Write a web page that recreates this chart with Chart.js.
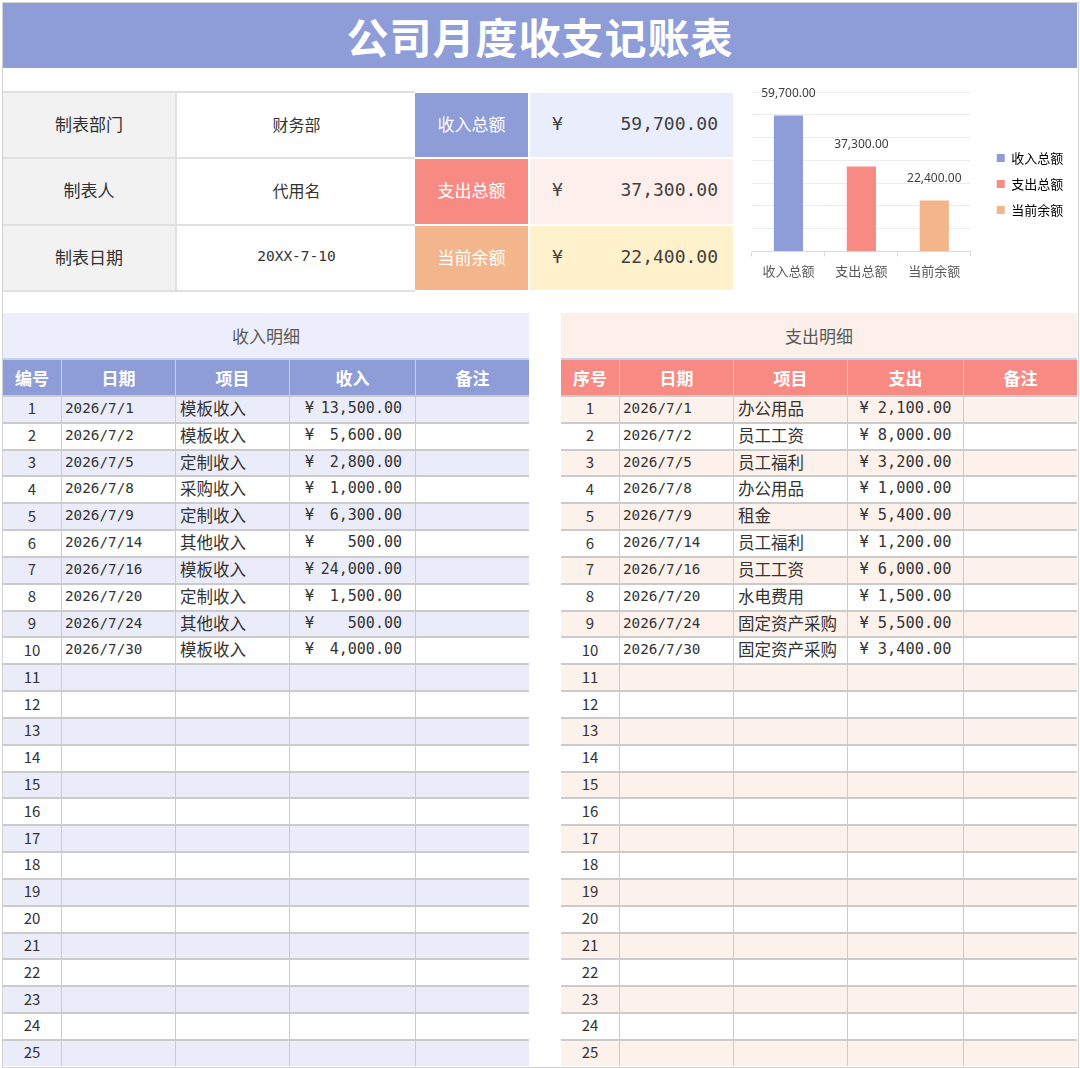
<!DOCTYPE html>
<html lang="zh-CN">
<head>
<meta charset="utf-8">
<title>公司月度收支记账表</title>
<script src="https://cdn.jsdelivr.net/npm/chart.js@4.4.1/dist/chart.umd.min.js"></script>
<style>
  html, body { margin: 0; padding: 0; background: #fff; }
  body { width: 1080px; height: 1068px; position: relative; overflow: hidden;
         font-family: "Noto Sans CJK SC", "Noto Sans", sans-serif; color: #333; }
  .abs { position: absolute; }
  #frame { left: 2px; top: 2px; width: 1075px; height: 1064px; border: 1px solid #d2d2d2; }
  #title { left: 3px; top: 3px; width: 1074px; height: 65px; background: #8e9cd8;
           color: #fff; font-size: 42px; font-weight: 700; letter-spacing: 1px;
           display: flex; align-items: center; justify-content: center; }
  .grid { display: grid; }
  .cell { display: flex; align-items: center; overflow: hidden; white-space: nowrap; box-sizing: border-box; }
  .c { justify-content: center; }
  .mono { font-family: "DejaVu Sans Mono", "Liberation Mono", monospace; }
  #infoLeft { left: 3px; top: 91px; background: #e0e0e0; padding: 2px 0 2px 0;
              grid-template-columns: 172px 239px; column-gap: 2px; row-gap: 2px;
              grid-template-rows: repeat(3, 64.33px); }
  #infoLeft .cell, #infoRight .cell { padding-bottom: 3px; }
  #infoLeft .lab { background: #f2f2f2; font-size: 17px; color: #333; }
  #infoLeft .val { background: #fff; font-size: 16px; color: #333; }
  #infoLeft .val.mono { font-size: 14.5px; }
  #infoRight { left: 415px; top: 91px; background: #fff; padding: 2px 0 2px 0;
               grid-template-columns: 113px 203px; column-gap: 2px; row-gap: 2px;
               grid-template-rows: repeat(3, 64.33px); }
  #infoRight .lab { color: #fff; font-size: 17px; }
  #infoRight .amt { justify-content: space-between; padding: 0 15px 3px 22px; font-size: 18px; color: #404040; }
  #chartBox { left: 742px; top: 78px; width: 334px; height: 212px; }
  .sec { height: 45px; font-size: 17px; color: #595959; display: flex; align-items: center; justify-content: center; }
  #secIn { left: 3px; top: 313px; width: 526px; background: #eceefb; }
  #secOut { left: 561px; top: 313px; width: 516px; background: #fdf0ea; }
  .head { top: 358px; padding-top: 2px; column-gap: 1px; grid-template-rows: 35px; background: #c7cfef; }
  .head .cell { color: #fff; font-size: 17px; font-weight: 700; justify-content: center; padding-bottom: 1px; }
  .body { top: 395px; padding-top: 2px; column-gap: 1px; row-gap: 2px; background: #cbcbcb;
          grid-template-rows: repeat(25, 24.84px); }
  .body .cell { font-size: 15px; color: #333; padding-bottom: 3px; }
  .body .num { justify-content: center; }
  .body .date { padding-left: 3px; font-size: 14.3px; }
  .body .item { padding-left: 4px; font-size: 16.5px; }
  .body .acc { justify-content: space-between; padding: 0 13px 3px 15px; font-size: 15px; }
  .body .amt2 { justify-content: center; font-size: 15.3px; }
  #headIn, #bodyIn { left: 3px; grid-template-columns: 58px 113px 113px 125px 113px; }
  #headOut, #bodyOut { left: 561px; grid-template-columns: 58px 113px 113px 115px 113px; }
  #headIn .cell { background: #8e9cd8; }
  #headOut .cell { background: #f78b84; }
</style>
</head>
<body>
<div id="frame" class="abs"></div>
<div id="title" class="abs">公司月度收支记账表</div>
<div id="infoLeft" class="abs grid"></div>
<div id="infoRight" class="abs grid"></div>
<div id="chartBox" class="abs"><canvas id="summaryChart"></canvas></div>
<div id="secIn" class="abs sec">收入明细</div>
<div id="secOut" class="abs sec">支出明细</div>
<div id="headIn" class="abs grid head"></div>
<div id="bodyIn" class="abs grid body"></div>
<div id="headOut" class="abs grid head"></div>
<div id="bodyOut" class="abs grid body"></div>

<script>
/* ================= DATA ================= */
const infoLabels = ["制表部门", "制表人", "制表日期"];
const infoValues = ["财务部", "代用名", "20XX-7-10"];

const summaryLabels = ["收入总额", "支出总额", "当前余额"];
const summaryValues = [59700, 37300, 22400];
const summaryColors = ["#8e9cd8", "#f78b84", "#f3b58b"];
const summaryTints = ["#eaedfb", "#fdf0ec", "#fff1cc"];
const yAxisMax = 70000;
const yAxisStep = 10000;

const incomeHeaders = ["编号", "日期", "项目", "收入", "备注"];
const incomeDates = ["2026/7/1", "2026/7/2", "2026/7/5", "2026/7/8", "2026/7/9",
                     "2026/7/14", "2026/7/16", "2026/7/20", "2026/7/24", "2026/7/30"];
const incomeItems = ["模板收入", "模板收入", "定制收入", "采购收入", "定制收入",
                     "其他收入", "模板收入", "定制收入", "其他收入", "模板收入"];
const incomeAmounts = [13500, 5600, 2800, 1000, 6300, 500, 24000, 1500, 500, 4000];

const expenseHeaders = ["序号", "日期", "项目", "支出", "备注"];
const expenseDates = ["2026/7/1", "2026/7/2", "2026/7/5", "2026/7/8", "2026/7/9",
                      "2026/7/14", "2026/7/16", "2026/7/20", "2026/7/24", "2026/7/30"];
const expenseItems = ["办公用品", "员工工资", "员工福利", "办公用品", "租金",
                      "员工福利", "员工工资", "水电费用", "固定资产采购", "固定资产采购"];
const expenseAmounts = [2100, 8000, 3200, 1000, 5400, 1200, 6000, 1500, 5500, 3400];

const ROW_COUNT = 25;
const CJK = '"Noto Sans CJK SC", "Noto Sans", sans-serif';

/* ================= HELPERS ================= */
function money(v) {
  return v.toLocaleString("en-US", { minimumFractionDigits: 2, maximumFractionDigits: 2 });
}

function cell(parent, cls, html, bg) {
  const d = document.createElement("div");
  d.className = "cell " + cls;
  d.innerHTML = html;
  if (bg) d.style.background = bg;
  parent.appendChild(d);
  return d;
}

/* ================= INFO BLOCK ================= */
function renderInfo() {
  const left = document.getElementById("infoLeft");
  const right = document.getElementById("infoRight");
  infoLabels.forEach((lab, i) => {
    cell(left, "lab c", lab);
    cell(left, "val c" + (i === 2 ? " mono" : ""), infoValues[i]);
    cell(right, "lab c", summaryLabels[i], summaryColors[i]);
    cell(right, "amt mono", `<span>¥</span><span>${money(summaryValues[i])}</span>`, summaryTints[i]);
  });
}

/* ================= DETAIL TABLES ================= */
function renderTable(headId, bodyId, headers, dates, items, amounts, stripe, accounting) {
  const head = document.getElementById(headId);
  headers.forEach((h) => cell(head, "", h));

  const body = document.getElementById(bodyId);
  for (let r = 0; r < ROW_COUNT; r++) {
    const bg = r % 2 === 0 ? stripe : "#ffffff";
    const has = r < dates.length;
    cell(body, "num", String(r + 1), bg);
    cell(body, "date mono", has ? dates[r] : "", bg);
    cell(body, "item", has ? items[r] : "", bg);
    if (!has) {
      cell(body, "", "", bg);
    } else if (accounting) {
      cell(body, "acc mono", `<span>¥</span><span>${money(amounts[r])}</span>`, bg);
    } else {
      cell(body, "amt2 mono", `¥ ${money(amounts[r])}`, bg);
    }
    cell(body, "", "", bg);
  }
}

/* ================= CHART ================= */
const LEGEND_GAP = 13;

// value labels above each bar
const barValueLabels = {
  id: "barValueLabels",
  afterDatasetsDraw(chart) {
    const ctx = chart.ctx;
    const meta = chart.getDatasetMeta(0);
    ctx.save();
    ctx.font = '12px "Noto Sans", sans-serif';
    ctx.fillStyle = "#404040";
    ctx.textAlign = "center";
    ctx.textBaseline = "middle";
    meta.data.forEach((bar, i) => {
      ctx.fillText(money(summaryValues[i]), bar.x, bar.y - 22);
    });
    ctx.restore();
  },
};

// wider gap between plot and legend, legend a bit above the middle
const legendPlace = {
  id: "legendPlace",
  beforeLayout(chart) {
    const lg = chart.legend;
    if (lg && !lg._gapWrapped) {
      const baseFit = Object.getPrototypeOf(lg).fit;
      lg.fit = function () {
        baseFit.call(this);
        this.width += LEGEND_GAP;
      };
      lg._gapWrapped = true;
    }
  },
  afterLayout(chart) {
    const lg = chart.legend;
    lg.left += LEGEND_GAP;
    lg.right += LEGEND_GAP;
    lg.top -= 5;
    lg.bottom -= 5;
  },
};

function renderChart() {
  new Chart(document.getElementById("summaryChart"), {
    type: "bar",
    data: {
      labels: summaryLabels,
      datasets: [
        {
          label: "金额",
          data: summaryValues,
          backgroundColor: summaryColors,
          categoryPercentage: 1,
          barPercentage: 0.4,
        },
      ],
    },
    options: {
      responsive: true,
      maintainAspectRatio: false,
      animation: false,
      layout: { padding: { left: 10, top: 14, bottom: 4, right: 15 } },
      plugins: {
        tooltip: { enabled: false },
        legend: {
          position: "right",
          labels: {
            boxWidth: 8,
            boxHeight: 8,
            padding: 13,
            color: "#595959",
            font: { family: CJK, size: 13 },
            generateLabels: () =>
              summaryLabels.map((text, i) => ({
                text,
                fillStyle: summaryColors[i],
                strokeStyle: summaryColors[i],
                lineWidth: 0,
                hidden: false,
                index: i,
                datasetIndex: 0,
              })),
          },
        },
      },
      scales: {
        x: {
          grid: { display: true, drawOnChartArea: false, drawTicks: true, tickLength: 5, color: "#d9d9d9", offset: true },
          border: { color: "#d9d9d9" },
          ticks: { color: "#595959", padding: 7, font: { family: CJK, size: 13 } },
        },
        y: {
          min: 0,
          max: yAxisMax,
          ticks: { display: false, stepSize: yAxisStep },
          grid: { color: "#ececec", drawTicks: false },
          border: { display: false },
        },
      },
    },
    plugins: [barValueLabels, legendPlace],
  });
}

/* ================= INIT ================= */
renderInfo();
renderTable("headIn", "bodyIn", incomeHeaders, incomeDates, incomeItems, incomeAmounts, "#eaecfa", true);
renderTable("headOut", "bodyOut", expenseHeaders, expenseDates, expenseItems, expenseAmounts, "#fdf1ec", false);
renderChart();
</script>
</body>
</html>
